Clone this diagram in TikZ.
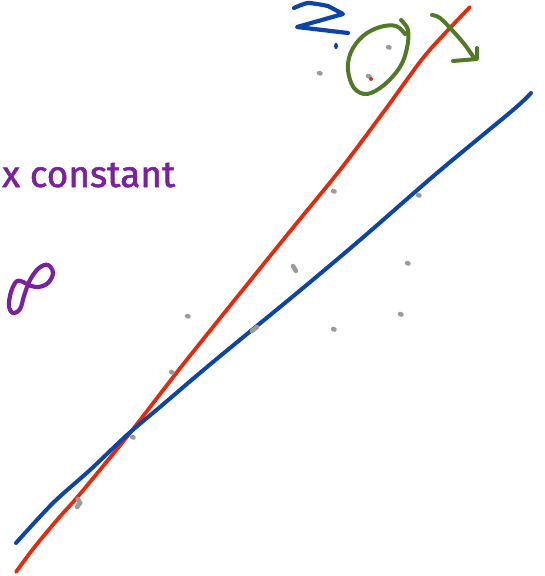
\documentclass[tikz,border=0pt]{standalone}
\usepackage{fontspec}
\newfontfamily\handfont{Fira Sans}
\definecolor{inkred}{RGB}{228,42,12}
\definecolor{inkblue}{RGB}{12,68,168}
\definecolor{inkgreen}{RGB}{80,122,38}
\definecolor{inkpurple}{RGB}{122,32,160}
\definecolor{inkgrey}{RGB}{155,155,155}
\begin{document}
\begin{tikzpicture}[x=1pt,y=-1pt,
  pen/.style={line cap=round,line join=round},
  dot/.style={inkgrey,line width=4.5pt,line cap=round}]
\useasboundingbox (0,0) rectangle (544,576);
\clip (0,0) rectangle (544,576);
% red line
\draw[pen,inkred,line width=3.8pt] plot[smooth,tension=0.5] coordinates {(16,572) (33,549) (57,520) (80,494) (130,433) (185,362) (283,240) (340,170) (385,110) (423,58) (450,28) (470,7)};
% blue line
\draw[pen,inkblue,line width=4pt] plot[smooth,tension=0.5] coordinates {(16,543) (53,503) (90,470) (127,435) (160,407) (213,362) (297,293) (360,240) (437,173) (513,110) (531,93)};
% blue squiggle
\draw[pen,inkblue,line width=4.2pt] plot[smooth,tension=0.4] coordinates {(294,8) (308,3) (328,6)} -- (343,14) -- (297,27) -- (348,33);
\fill[inkblue] (336,46) ellipse (2 and 3.2);
% green loop
\draw[pen,inkgreen,line width=4pt] plot[smooth,tension=0.6] coordinates {(401,20) (408,30) (407,48) (400,67) (384,85) (367,94) (354,88) (348,70) (351,52) (363,36) (380,27) (396,26) (405,34)};
% green arrow
\draw[pen,inkgreen,line width=4pt] plot[smooth,tension=0.6] coordinates {(432,15) (440,18) (452,30) (465,45) (474,58)};
\draw[pen,inkgreen,line width=4pt] (453,61) -- (477,59) -- (477,48);
% grey dots
\foreach \p in {(388,47),(319,73),(368,76),(187,316),(407,263),(333,329),(400,314),(333,191),(418,195),(171,372),(132,437)}
  \draw[dot] \p -- ++(1.5,0.5);
\draw[dot] (293,266) -- (296,271);
\draw[dot] (252,331) -- (257,327);
\draw[dot] (78,499) -- (80,503) -- (77,507);
\fill[inkred] (371,79) circle (2);
% purple text
\node[inkpurple,anchor=base west,inner sep=0pt] (txt) at (2,187) {\resizebox{173pt}{!}{\handfont\addfontfeature{FakeBold=1.5} x constant}};
% infinity-like sign
\draw[pen,inkpurple,line width=4.2pt] plot[smooth,tension=0.6] coordinates {(25,283) (17,281) (11,292) (9,306) (13,313) (20,309) (24,296) (30,280) (39,268) (48,265) (53,273) (48,283) (38,287) (28,285)};
\end{tikzpicture}
\end{document}
